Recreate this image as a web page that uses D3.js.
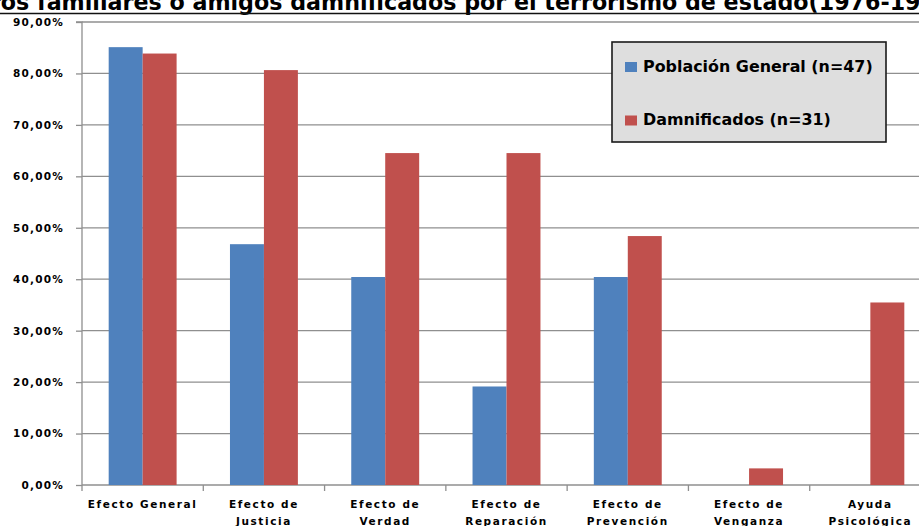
<!DOCTYPE html>
<html>
<head>
<meta charset="utf-8">
<script src="https://cdn.jsdelivr.net/npm/d3@7"></script>
<style>
  html, body { margin: 0; padding: 0; background: #fff; overflow: hidden; }
  svg { display: block; }
  text { font-family: "DejaVu Sans", Verdana, sans-serif; font-weight: bold; fill: #000; }
</style>
</head>
<body>
<svg id="chart" width="919" height="526"></svg>
<script>
// Categories along the x axis (two-line labels)
const categories = [
  "Efecto General", "Efecto de Justicia", "Efecto de Verdad", "Efecto de Reparación",
  "Efecto de Prevención", "Efecto de Venganza", "Ayuda Psicológica"
];
const categoryLines = [
  ["Efecto General"], ["Efecto de", "Justicia"], ["Efecto de", "Verdad"],
  ["Efecto de", "Reparación"], ["Efecto de", "Prevención"], ["Efecto de", "Venganza"],
  ["Ayuda", "Psicológica"]
];
// Series (share of respondents)
const seriesNames = ["Población General (n=47)", "Damnificados (n=31)"];
const poblacionGeneral = [0.8511, 0.4681, 0.4043, 0.1915, 0.4043, 0, 0];
const damnificados     = [0.8387, 0.8065, 0.6452, 0.6452, 0.4839, 0.0323, 0.3548];
const seriesColors = ["#4f81bd", "#c0504d"];
const yTicks = [0, 0.1, 0.2, 0.3, 0.4, 0.5, 0.6, 0.7, 0.8, 0.9];
const titleText = "Efectos esperados de los juicios: población general y padres, hijos, hermanos u otros familiares o amigos damnificados por el terrorismo de estado(1976-1983)";

const svg = d3.select("#chart");

const plot = { left: 82, top: 22, bottom: 485, right: 931 };

const x = d3.scaleBand()
  .domain(categories)
  .range([plot.left, plot.right])
  .paddingInner(0.44)
  .paddingOuter(0.22);
const xs = d3.scaleBand().domain([0, 1]).range([0, x.bandwidth()]);
const y = d3.scaleLinear().domain([0, 0.9]).range([plot.bottom, plot.top]);

// Title (runs past the top edge) and the frame rule under it
const title = svg.append("text")
  .attr("y", 9.5)
  .style("font-size", "20px")
  .text(titleText);
{
  const node = title.node();
  const start = titleText.indexOf("familiares");
  const endIdx = titleText.indexOf("(1976");
  const span = node.getSubStringLength(start, endIdx - start);
  title.style("font-size", (20 * 772 / span) + "px");
  const off = node.getSubStringLength(0, start);
  title.attr("x", 37 - off);
}
svg.append("line")
  .attr("x1", 0).attr("x2", 919).attr("y1", 13.5).attr("y2", 13.5)
  .attr("stroke", "#111").attr("stroke-width", 1.6);

// Horizontal gridlines
svg.append("g").selectAll("line")
  .data(yTicks.filter(d => d > 0))
  .join("line")
  .attr("x1", plot.left).attr("x2", 919)
  .attr("y1", d => y(d)).attr("y2", d => y(d))
  .attr("stroke", "#8f8f8f").attr("stroke-width", 1.3);

// Y axis
const yAxis = d3.axisLeft(y)
  .tickValues(yTicks)
  .tickSize(6)
  .tickPadding(12)
  .tickFormat(d => d3.format(".2f")(d * 100).replace(".", ",") + "%");
const gy = svg.append("g").attr("transform", `translate(${plot.left},0)`).call(yAxis);
gy.select(".domain").attr("stroke", "#8f8f8f").attr("stroke-width", 1.3).attr("d", `M-6,${plot.top}H0V${plot.bottom}`);
gy.selectAll(".tick line").attr("stroke", "#8f8f8f").attr("stroke-width", 1.3);
gy.selectAll(".tick text")
  .style("font-family", "'DejaVu Sans', Verdana, sans-serif")
  .style("font-weight", "bold")
  .style("font-size", "10.5px")
  .style("letter-spacing", "1.2px")
  .attr("fill", "#000");

// X axis baseline and category separators
svg.append("line")
  .attr("x1", plot.left).attr("x2", 919)
  .attr("y1", plot.bottom).attr("y2", plot.bottom)
  .attr("stroke", "#8f8f8f").attr("stroke-width", 1.3);
svg.append("g").selectAll("line")
  .data(d3.range(categories.length + 1))
  .join("line")
  .attr("x1", i => plot.left + i * x.step())
  .attr("x2", i => plot.left + i * x.step())
  .attr("y1", plot.bottom).attr("y2", plot.bottom + 6)
  .attr("stroke", "#8f8f8f").attr("stroke-width", 1.3);

// Bars
const groups = svg.append("g").selectAll("g")
  .data(categories)
  .join("g")
  .attr("transform", d => `translate(${x(d)},0)`);
groups.selectAll("rect")
  .data((d, i) => [poblacionGeneral[i], damnificados[i]])
  .join("rect")
  .attr("x", (v, j) => xs(j))
  .attr("width", xs.bandwidth())
  .attr("y", v => y(v))
  .attr("height", v => plot.bottom - y(v))
  .attr("fill", (v, j) => seriesColors[j]);

// Category labels
const xl = svg.append("g").selectAll("text")
  .data(categories)
  .join("text")
  .attr("text-anchor", "middle")
  .attr("x", d => x(d) + x.bandwidth() / 2)
  .attr("y", 508)
  .style("font-size", "10.5px")
  .style("letter-spacing", "1.6px");
xl.selectAll("tspan")
  .data((d, i) => categoryLines[i])
  .join("tspan")
  .attr("x", function () { return this.parentNode.getAttribute("x"); })
  .attr("dy", (l, k) => k === 0 ? 0 : 17)
  .text(l => l);

// Legend
const legend = svg.append("g");
legend.append("rect")
  .attr("x", 612).attr("y", 42).attr("width", 274).attr("height", 100)
  .attr("fill", "#dedede").attr("stroke", "#1a1a1a").attr("stroke-width", 1.6);
const items = legend.selectAll("g.item")
  .data(seriesNames)
  .join("g").attr("class", "item")
  .attr("transform", (d, i) => `translate(625,${62 + i * 53.5})`);
items.append("rect")
  .attr("width", 12).attr("height", 10)
  .attr("fill", (d, i) => seriesColors[i]);
items.append("text")
  .attr("x", 18).attr("y", 9.5)
  .style("font-size", "15px")
  .text(d => d);
{
  const first = items.select("text").node();
  const len = first.getComputedTextLength();
  items.selectAll("text").style("font-size", (15 * 230 / len) + "px");
}
</script>
</body>
</html>
